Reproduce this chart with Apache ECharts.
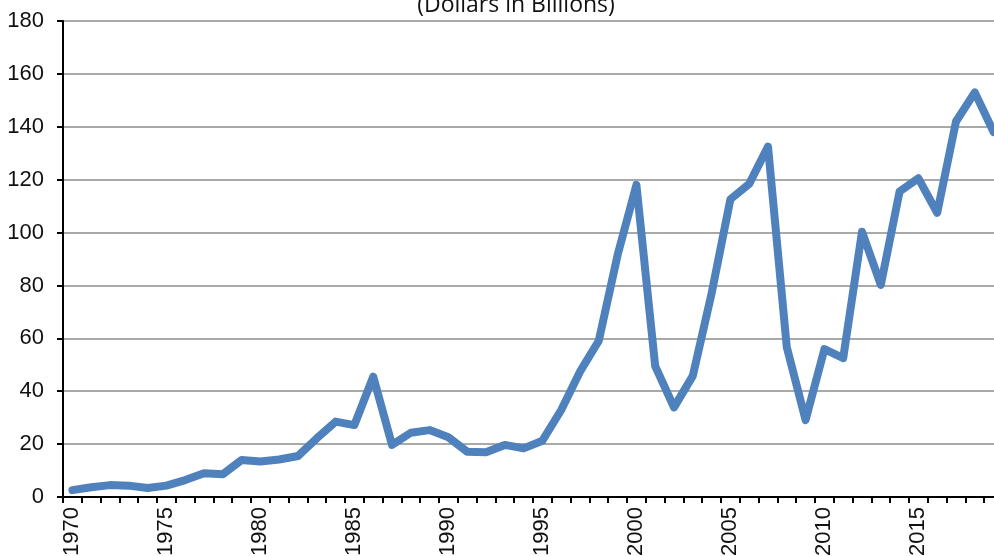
<!DOCTYPE html>
<html>
<head>
<meta charset="utf-8">
<script src="https://cdn.jsdelivr.net/npm/echarts@6/dist/echarts.min.js"></script>
<style>html,body{margin:0;padding:0;background:#fff}#c{width:994px;height:556px}</style>
</head>
<body>
<div id="c"></div>
<script>
var years = ['1970','1971','1972','1973','1974','1975','1976','1977','1978','1979',
             '1980','1981','1982','1983','1984','1985','1986','1987','1988','1989',
             '1990','1991','1992','1993','1994','1995','1996','1997','1998','1999',
             '2000','2001','2002','2003','2004','2005','2006','2007','2008','2009',
             '2010','2011','2012','2013','2014','2015','2016','2017','2018','2019'];
var values = [2.6, 3.7, 4.5, 4.3, 3.4, 4.3, 6.4, 9.0, 8.6, 14.0,
              13.4, 14.2, 15.5, 22.2, 28.5, 27.2, 45.5, 19.7, 24.3, 25.3,
              22.6, 17.1, 16.9, 19.7, 18.4, 21.3, 32.9, 47.4, 59.1, 91.5,
              118, 49.5, 33.9, 45.8, 77, 112.6, 118.4, 132.5, 56.6, 29.1,
              55.9, 52.5, 100.3, 80.2, 115.5, 120.5, 107.5, 142, 153, 138];
var titleText = '(Dollars in Billions)';

var labelFont = '"Liberation Sans", Arial, sans-serif';
var chart = echarts.init(document.getElementById('c'));
chart.setOption({
  animation: false,
  backgroundColor: '#fff',
  title: {
    text: titleText,
    left: 511, top: -11, textAlign: 'center',
    textStyle: {fontFamily: '"Open Sans", sans-serif', fontWeight: 'normal', fontSize: 23, color: '#111'}
  },
  grid: {left: 63, width: 940, top: 21, bottom: 59, containLabel: false, outerBoundsMode: 'none'},
  xAxis: {
    type: 'category',
    data: years,
    boundaryGap: true,
    axisLine: {lineStyle: {color: '#000', width: 2}},
    axisTick: {show: true, interval: 0, length: 6, lineStyle: {color: '#000', width: 2}},
    axisLabel: {interval: 4, rotate: 90, margin: 10,
      fontFamily: labelFont, fontSize: 22, color: '#111'},
    splitLine: {show: false}
  },
  yAxis: {
    type: 'value',
    min: 0, max: 180, interval: 20,
    axisLine: {show: true, lineStyle: {color: '#000', width: 2}},
    axisTick: {show: true, length: 6, lineStyle: {color: '#000', width: 2}},
    axisLabel: {margin: 19, fontFamily: labelFont, fontSize: 22, color: '#111'},
    splitLine: {show: true, lineStyle: {color: '#8c8c8c', width: 1.5}}
  },
  series: [{
    type: 'line',
    data: values,
    symbol: 'none',
    smooth: false,
    clip: false,
    lineStyle: {color: '#4f81bd', width: 8, cap: 'round', join: 'round'},
    itemStyle: {color: '#4f81bd'}
  }]
});
</script>
</body>
</html>
